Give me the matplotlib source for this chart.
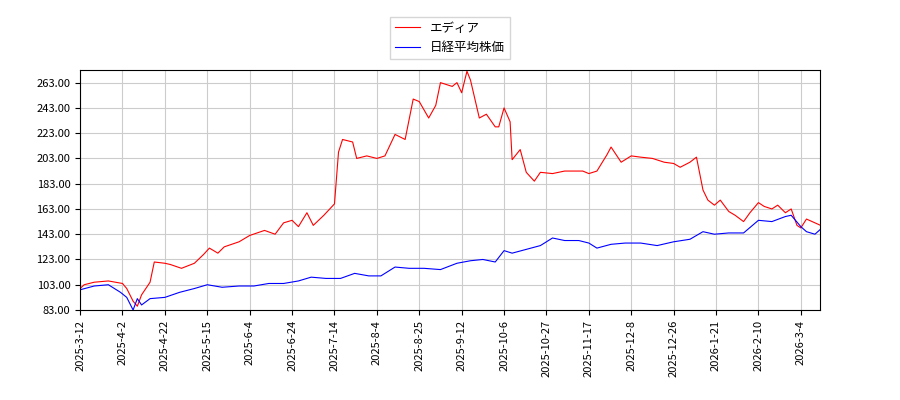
import matplotlib
matplotlib.use("Agg")
import matplotlib.pyplot as plt
import numpy as np
import pandas as pd

plt.rcParams['font.family'] = ['Noto Sans CJK JP', 'DejaVu Sans']

edia_dates = ["2025-03-12","2025-03-14","2025-03-19","2025-03-26","2025-04-02","2025-04-04","2025-04-07","2025-04-09",
    "2025-04-11","2025-04-15","2025-04-17","2025-04-22","2025-04-25","2025-05-01","2025-05-08","2025-05-13","2025-05-16",
    "2025-05-20","2025-05-23","2025-05-30","2025-06-04","2025-06-11","2025-06-16","2025-06-20","2025-06-24","2025-06-27",
    "2025-07-01","2025-07-04","2025-07-09","2025-07-14","2025-07-16","2025-07-18","2025-07-23","2025-07-25","2025-07-30",
    "2025-08-04","2025-08-08","2025-08-13","2025-08-18","2025-08-22","2025-08-25","2025-08-29","2025-09-01","2025-09-03",
    "2025-09-08","2025-09-10","2025-09-12","2025-09-15","2025-09-17","2025-09-22","2025-09-26","2025-10-01","2025-10-03",
    "2025-10-06","2025-10-09","2025-10-10","2025-10-14","2025-10-17","2025-10-21","2025-10-24","2025-10-30","2025-11-05",
    "2025-11-10","2025-11-14","2025-11-17","2025-11-21","2025-11-26","2025-11-28","2025-12-03","2025-12-08","2025-12-12",
    "2025-12-17","2025-12-22","2025-12-26","2025-12-30","2026-01-05","2026-01-09","2026-01-13","2026-01-16","2026-01-20",
    "2026-01-23","2026-01-27","2026-01-30","2026-02-03","2026-02-06","2026-02-10","2026-02-13","2026-02-17","2026-02-20",
    "2026-02-24","2026-02-27","2026-03-02","2026-03-04","2026-03-06","2026-03-09","2026-03-11"]
edia_values = [100,103,105,106,104,100,90,86,95,105,121,120,119,116,120,127,132,128,133,137,142,146,143,152,154,149,
    160,150,158,167,208,218,216,203,205,203,205,222,218,250,248,235,245,263,260,263,255,272,265,235,238,228,228,
    243,232,202,210,192,185,192,191,193,193,193,191,193,206,212,200,205,204,203,200,199,196,200,204,178,170,166,
    170,161,158,153,160,168,165,163,166,160,163,150,148,155,152,150]

nikkei_dates = ["2025-03-12","2025-03-19","2025-03-26","2025-04-01","2025-04-04","2025-04-07","2025-04-09","2025-04-11",
    "2025-04-15","2025-04-22","2025-04-30","2025-05-08","2025-05-15","2025-05-22","2025-05-30","2025-06-06","2025-06-13",
    "2025-06-20","2025-06-27","2025-07-03","2025-07-10","2025-07-17","2025-07-24","2025-07-31","2025-08-06","2025-08-13",
    "2025-08-20","2025-08-27","2025-09-03","2025-09-10","2025-09-17","2025-09-24","2025-10-01","2025-10-06","2025-10-10",
    "2025-10-17","2025-10-24","2025-10-30","2025-11-05","2025-11-12","2025-11-17","2025-11-21","2025-11-28","2025-12-05",
    "2025-12-12","2025-12-19","2025-12-26","2026-01-05","2026-01-13","2026-01-20","2026-01-27","2026-02-03","2026-02-10",
    "2026-02-17","2026-02-24","2026-02-27","2026-03-04","2026-03-06","2026-03-09","2026-03-11"]
nikkei_values = [99,102,103,97,93,83,92,87,92,93,97,100,103,101,102,102,104,104,106,109,108,108,112,110,110,117,
    116,116,115,120,122,123,121,130,128,131,134,140,138,138,136,132,135,136,136,134,137,139,145,143,144,144,154,
    153,157,158,149,145,143,147]

tick_labels = ["2025-3-12","2025-4-2","2025-4-22","2025-5-15","2025-6-4","2025-6-24","2025-7-14","2025-8-4",
    "2025-8-25","2025-9-12","2025-10-6","2025-10-27","2025-11-17","2025-12-8","2025-12-26","2026-1-21",
    "2026-2-10","2026-3-4"]

# x axis is a trading-day index: one tick every 20 sessions
tick_pos = np.arange(len(tick_labels)) * 20
tick_num = pd.to_datetime(tick_labels).map(pd.Timestamp.toordinal).to_numpy()

def to_pos(dates):
    d = pd.to_datetime(dates).map(pd.Timestamp.toordinal).to_numpy()
    slope = 20 / np.mean(np.diff(tick_num))
    return np.where(d > tick_num[-1], tick_pos[-1] + (d - tick_num[-1]) * slope * 1.4,
                    np.interp(d, tick_num, tick_pos))

fig = plt.figure(figsize=(9, 4), dpi=100)
ax = fig.add_axes([0.089, 0.225, 0.822, 0.6])
ax.plot(to_pos(edia_dates), edia_values, color='red', lw=0.8, label='エディア')
ax.plot(to_pos(nikkei_dates), nikkei_values, color='blue', lw=0.8, label='日経平均株価')

ax.set_xticks(tick_pos)
ax.set_xticklabels(tick_labels, rotation=90, fontsize=8)
ax.set_xlim(0, 349)
ax.set_ylim(83, 273)
ax.set_yticks(range(83, 264, 20))
ax.set_yticklabels([f"{v:.2f}" for v in range(83, 264, 20)], fontsize=8)
ax.grid(True, color='#cccccc')
ax.legend(loc='lower center', bbox_to_anchor=(0.5, 1.02), fontsize=9, fancybox=False)

fig.savefig("out.png")
